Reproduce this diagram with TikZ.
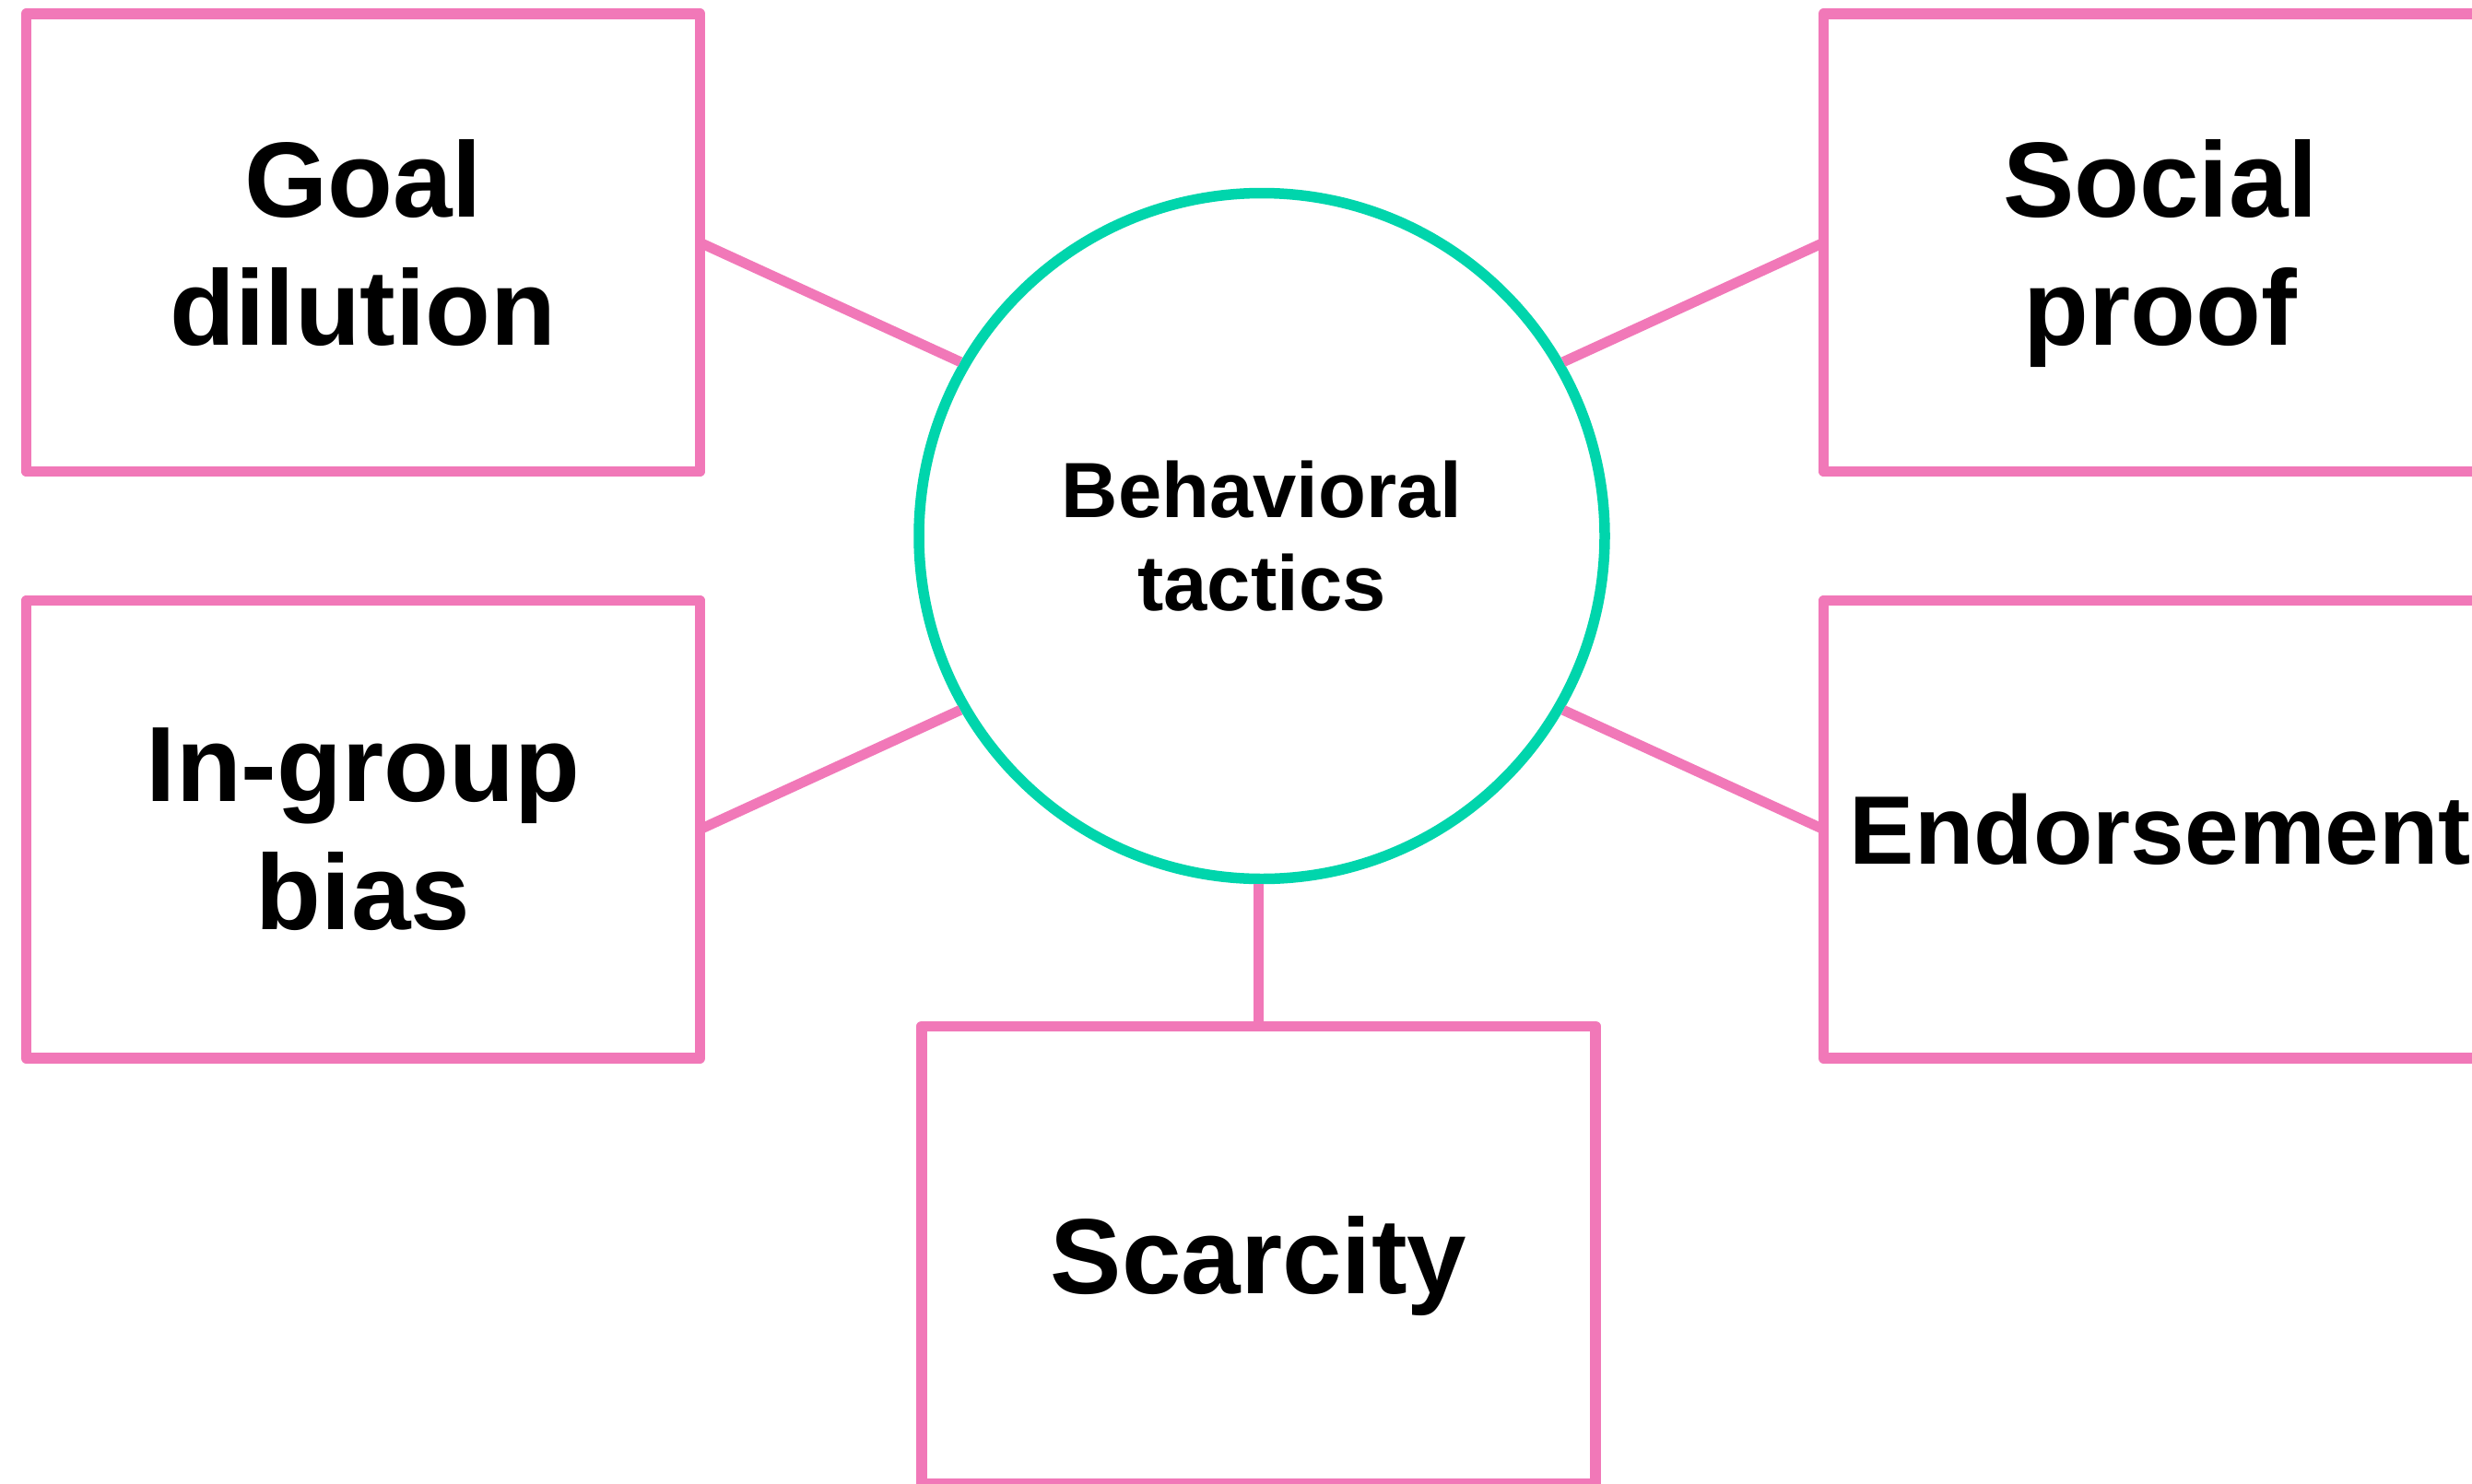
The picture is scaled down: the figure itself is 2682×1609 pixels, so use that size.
\documentclass[tikz,border=0pt]{standalone}
\usepackage{fontspec}
\setmainfont{Liberation Sans}
\definecolor{tacticpink}{HTML}{F178B8}
\definecolor{hubgreen}{HTML}{00D5AC}
\tikzset{
  tactic/.style={rectangle, draw=tacticpink, line width=11.5pt, fill=white,
    minimum width=731pt, minimum height=496.5pt, inner sep=0pt, outer sep=0pt,
    line join=round, align=center, font=\bfseries\fontsize{116}{139}\selectfont},
  hub/.style={circle, draw=hubgreen, line width=11.5pt, fill=white,
    minimum size=744pt, inner sep=0pt, outer sep=5.75pt, align=center,
    font=\bfseries\fontsize{85}{101}\selectfont},
  link/.style={draw=tacticpink, line width=11pt},
}
\begin{document}
\begin{tikzpicture}[x=1pt,y=-1pt]
  \clip (0,0) rectangle (2682,1609);
  \fill[white] (0,0) rectangle (2682,1609);

  % central hub
  \node[hub] (hub) at (1369,581.5) {Behavioral\\tactics};

  % connectors (drawn before the boxes so the box borders sit on top)
  \coordinate (gEast) at (759.5,263.25);
  \coordinate (iEast) at (759.5,899.75);
  \coordinate (sWest) at (1978.5,263.25);
  \coordinate (eWest) at (1978.5,899.75);
  \coordinate (cNorth) at (1365.5,1113.3);
  \draw[link] (gEast) -- (hub.150);
  \draw[link] (iEast) -- (hub.210);
  \draw[link] (sWest) -- (hub.30);
  \draw[link] (eWest) -- (hub.330);
  \draw[link] (cNorth) -- (cNorth |- hub.south);

  % tactic boxes
  \node[tactic] (goal)  at (394,263.25)  {Goal\\dilution};
  \node[tactic] (ingroup) at (394,899.75) {In-group\\bias};
  \node[tactic] (social) at (2344,263.25) {Social\\\smash{proof}};
  \node[tactic, font=\bfseries\fontsize{105.5}{127}\selectfont] (endorse) at (2344,899.75) {Endorsement};
  \node[tactic, text depth=0pt] (scarcity) at (1365.5,1361.55) {Scarcity};
\end{tikzpicture}
\end{document}
